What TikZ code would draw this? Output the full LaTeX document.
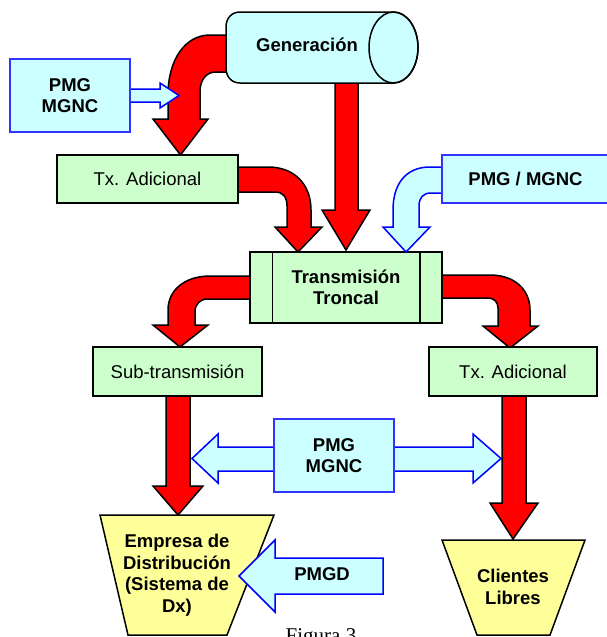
\documentclass[tikz,border=0pt]{standalone}
\usepackage{fontspec}
\setmainfont{Liberation Sans}
\newfontfamily\figfont{Liberation Serif}
\definecolor{redA}{HTML}{FF0000}
\definecolor{cyanA}{HTML}{CCFFFF}
\definecolor{greenA}{HTML}{CCFFCC}
\definecolor{yellowA}{HTML}{FFFF99}
\definecolor{blueA}{HTML}{0000FF}
\definecolor{boxblue}{HTML}{3333FF}
\newcommand{\fsz}{\fontsize{18.5}{21.5}\selectfont}
\begin{document}
\begin{tikzpicture}[x=1pt,y=-1pt,
  redarrow/.style={fill=redA, draw=black, line width=1.5pt, line join=miter},
  bluearrow/.style={fill=cyanA, draw=blueA, line width=1.5pt, line join=miter},
  gbox/.style={draw=black, fill=greenA, line width=1.5pt, inner sep=0pt, font=\fsz},
  cbox/.style={draw=boxblue, fill=cyanA, line width=1.3pt, inner sep=0pt, font=\fsz\bfseries, align=center},
  trap/.style={draw=black, fill=yellowA, line width=1.5pt, line join=miter},
  btext/.style={font=\fsz\bfseries, align=center, inner sep=0pt}]
\useasboundingbox (0,0) rectangle (607,637);
\clip (0,0) rectangle (607,637);

% red arrows
\path[redarrow] (240,35) -- (210,35) .. controls (185,35) and (168,60) .. (168,95) -- (168,119) -- (153,119) -- (180.5,155) -- (208,119) -- (200,119) -- (200,92) .. controls (200,80) and (206,72) .. (216,72) -- (240,72) -- cycle;
\path[redarrow] (335,75) -- (335,210) -- (322,210) -- (346,250) -- (370,210) -- (358,210) -- (358,75) -- cycle;
\path[redarrow] (230,167) -- (268,167) .. controls (295,167) and (311,185) .. (311,210) -- (311,227) -- (322,227) -- (298,252) -- (275,227) -- (287,227) -- (287,206) .. controls (287,197) and (283,192) .. (275,192) -- (230,192) -- cycle;
\path[redarrow] (258,276) -- (210,276) .. controls (185,276) and (168,290) .. (168,310) -- (168,325) -- (153,325) -- (180,347) -- (208,325) -- (195,325) -- (195,312) .. controls (195,304) and (200,299) .. (208,299) -- (258,299) -- cycle;
\path[redarrow] (435,275) -- (490,275) .. controls (515,275) and (530,290) .. (530,310) -- (530,326) -- (538,326) -- (510,348) -- (483,326) -- (498,326) -- (498,308) .. controls (498,302) and (494,298) .. (488,298) -- (435,298) -- cycle;
\path[redarrow] (166,390) -- (166,486) -- (153,486) -- (178,515) -- (203,486) -- (190,486) -- (190,390) -- cycle;
\path[redarrow] (502,390) -- (502,503) -- (490,503) -- (513,539) -- (538,503) -- (526,503) -- (526,390) -- cycle;

% Generacion cylinder
\path[draw=black, fill=cyanA, line width=1.5pt] (240,12) -- (393.5,12) .. controls (407,12) and (418,27.9) .. (418,47.5) .. controls (418,67.1) and (407,83) .. (393.5,83) -- (240,83) .. controls (231,83) and (226,76) .. (226,68) -- (226,27) .. controls (226,19) and (231,12) .. (240,12) -- cycle;
\draw[line width=1.5pt] (393.5,47.5) ellipse [x radius=24.5pt, y radius=35.5pt];
\node[btext] (gen) at (307,45) {Generación};

% green boxes
\node[gbox, minimum width=181pt, minimum height=48pt] (txa1) at (147.5,179) {Tx. Adicional\hspace{10pt}};
\node[gbox, minimum width=192pt, minimum height=71pt, font=\fsz\bfseries, align=center] (tron) at (346,287.5) {Transmisión\\Troncal};
\draw[line width=1.5pt] ([xshift=23pt]tron.north west) -- ([xshift=23pt]tron.south west);
\draw[line width=1.5pt] ([xshift=-23pt]tron.north east) -- ([xshift=-23pt]tron.south east);
\node[gbox, minimum width=169pt, minimum height=49pt] (sub) at (177.5,371.5) {Sub-transmisión};
\node[gbox, minimum width=168pt, minimum height=49pt] (txa2) at (513,371.5) {Tx. Adicional};

% trapezoids
\path[trap] (100,515) -- (274,515) -- (227,635) -- (128,635) -- cycle;
\node[btext] (emp) at (177,575) {Empresa de\\Distribución\\(Sistema de\\Dx)};
\path[trap] (442,540) -- (585,540) -- (550,635) -- (477,635) -- cycle;
\node[btext] (cli) at (513,587) {Clientes\\Libres};

% blue arrows
\path[bluearrow] (125,89) -- (160,89) -- (160,83) -- (179,95.5) -- (160,108) -- (160,102) -- (125,102) -- cycle;
\path[bluearrow] (450,167) -- (430,167) .. controls (405,167) and (393,185) .. (393,210) -- (393,227) -- (383,227) -- (406,252) -- (430,227) -- (419,227) -- (419,206) .. controls (419,198) and (423,193) .. (431,193) -- (450,193) -- cycle;
\path[bluearrow] (218,434) -- (192,458.5) -- (218,483) -- (218,471) -- (473,471) -- (473,483) -- (501,458.5) -- (473,434) -- (473,447) -- (218,447) -- cycle;
\path[bluearrow] (383,558) -- (275,558) -- (275,540) -- (239,576) -- (275,612) -- (275,594) -- (383,594) -- cycle;
\node[btext] (pmgd) at (322,574) {PMGD};

% cyan boxes
\node[cbox, minimum width=120pt, minimum height=73pt] (pmg1) at (70,95.5) {PMG\\MGNC};
\node[cbox, minimum width=167pt, minimum height=48pt] (pmg2) at (525.5,179) {PMG / MGNC};
\node[cbox, minimum width=120pt, minimum height=73pt] (pmg3) at (334,455.5) {PMG\\MGNC};

% caption
\node[font=\figfont\fontsize{21}{24}\selectfont, anchor=base, inner sep=0pt] (fig) at (321,642) {Figura 3};
\end{tikzpicture}
\end{document}
